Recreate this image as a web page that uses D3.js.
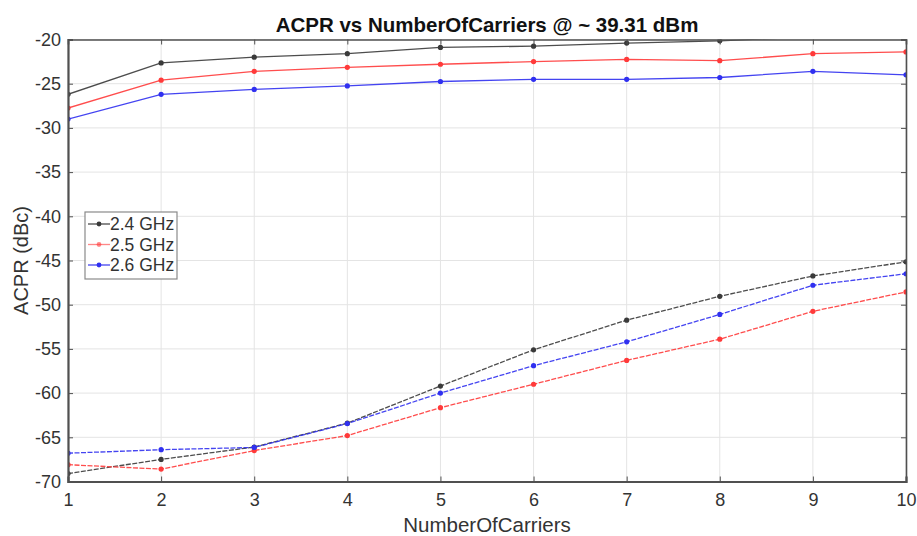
<!DOCTYPE html>
<html>
<head>
<meta charset="utf-8">
<script src="https://cdn.jsdelivr.net/npm/d3@7"></script>
<style>
  html, body { margin: 0; padding: 0; background: #fff; }
  svg { display: block; font-family: "Liberation Sans", Arial, sans-serif; }
</style>
</head>
<body>
<svg id="chart" width="917" height="536"></svg>
<script>
// ---- Data ----
const carriers = [1, 2, 3, 4, 5, 6, 7, 8, 9, 10];
const xTicks = [1, 2, 3, 4, 5, 6, 7, 8, 9, 10];
const yTicks = [-70, -65, -60, -55, -50, -45, -40, -35, -30, -25, -20];
const seriesNames = ["2.4 GHz", "2.5 GHz", "2.6 GHz"];
const seriesColors = ["#3a3a3a", "#ff3a3a", "#3030f0"];

// upper branch (one per frequency)
const upper24 = [-26.2, -22.65, -22.0, -21.6, -20.9, -20.75, -20.4, -20.15, -19.7, -19.3];
const upper25 = [-27.75, -24.6, -23.6, -23.15, -22.8, -22.5, -22.25, -22.4, -21.6, -21.4];
const upper26 = [-29.0, -26.2, -25.65, -25.25, -24.75, -24.5, -24.5, -24.3, -23.6, -24.0];
// lower branch (one per frequency)
const lower24 = [-69.1, -67.5, -66.1, -63.4, -59.2, -55.1, -51.75, -49.05, -46.75, -45.15];
const lower25 = [-68.1, -68.6, -66.5, -64.8, -61.65, -59.0, -56.3, -53.9, -50.75, -48.55];
const lower26 = [-66.8, -66.4, -66.15, -63.45, -60.0, -56.9, -54.2, -51.1, -47.8, -46.5];

const titleText = "ACPR vs NumberOfCarriers @ ~ 39.31 dBm";
const xLabel = "NumberOfCarriers";
const yLabel = "ACPR (dBc)";

// ---- Layout ----
const svg = d3.select("#chart");
const m = { left: 68, right: 11, top: 39.5, bottom: 54.5 };
const W = 917, H = 536;
const pw = W - m.left - m.right, ph = H - m.top - m.bottom;

const x = d3.scaleLinear().domain([1, 10]).range([0, pw]);
const y = d3.scaleLinear().domain([-70, -20]).range([ph, 0]);

const g = svg.append("g").attr("transform", `translate(${m.left},${m.top})`);

// grid
g.append("g").selectAll("line").data(xTicks).join("line")
  .attr("x1", d => x(d)).attr("x2", d => x(d)).attr("y1", 0).attr("y2", ph)
  .attr("stroke", "#e4e4e4").attr("stroke-width", 1);
g.append("g").selectAll("line").data(yTicks).join("line")
  .attr("y1", d => y(d)).attr("y2", d => y(d)).attr("x1", 0).attr("x2", pw)
  .attr("stroke", "#e4e4e4").attr("stroke-width", 1);

// clip
svg.append("defs").append("clipPath").attr("id", "clip")
  .append("rect").attr("x", 0).attr("y", 0).attr("width", pw).attr("height", ph);

const plot = g.append("g").attr("clip-path", "url(#clip)");
const line = d3.line().x((d, i) => x(carriers[i])).y(d => y(d));

const upperSets = [upper24, upper25, upper26];
const lowerSets = [lower24, lower25, lower26];

function drawSeries(vals, color, dash) {
  plot.append("path").datum(vals)
    .attr("d", line).attr("fill", "none")
    .attr("stroke", color).attr("stroke-width", 1.3)
    .attr("stroke-dasharray", dash).attr("opacity", 0.9);
  plot.append("g").selectAll("circle").data(vals).join("circle")
    .attr("cx", (d, i) => x(carriers[i])).attr("cy", d => y(d))
    .attr("r", 2.6).attr("fill", color);
}
upperSets.forEach((s, i) => drawSeries(s, seriesColors[i], null));
lowerSets.forEach((s, i) => drawSeries(s, seriesColors[i], "5,1.5"));

// axes (MATLAB-like: ticks inward, box)
const axisColor = "#505050";
const xAxis = d3.axisBottom(x).tickValues(xTicks).tickSize(-5).tickPadding(12).tickFormat(d3.format("d"));
const yAxis = d3.axisLeft(y).tickValues(yTicks).tickSize(-5).tickPadding(7).tickFormat(d => d3.format("d")(d).replace("\u2212", "-"));

const gx = g.append("g").attr("transform", `translate(0,${ph})`).call(xAxis);
const gy = g.append("g").call(yAxis);
const gxTop = g.append("g").call(d3.axisTop(x).tickValues(xTicks).tickSize(-5).tickFormat(""));
const gyRight = g.append("g").attr("transform", `translate(${pw},0)`).call(d3.axisRight(y).tickValues(yTicks).tickSize(-5).tickFormat(""));

[gx, gy, gxTop, gyRight].forEach(a => {
  a.selectAll("path").attr("stroke", axisColor).attr("stroke-width", 1.6);
  a.selectAll("line").attr("stroke", axisColor);
  a.selectAll("text").attr("fill", "#333").style("font-size", "18px")
    .style("font-family", "'Liberation Sans', Arial, sans-serif");
});
gx.select(".domain").attr("stroke-width", 2.2);
gy.select(".domain").attr("stroke-width", 2.2);

// title & labels
svg.append("text").attr("x", m.left + pw / 2).attr("y", 32)
  .attr("text-anchor", "middle").style("font-size", "20.5px").style("font-weight", "bold")
  .attr("fill", "#111").text(titleText);
svg.append("text").attr("x", m.left + pw / 2).attr("y", 532)
  .attr("text-anchor", "middle").style("font-size", "20.5px").attr("fill", "#333").text(xLabel);
svg.append("text").attr("transform", `translate(28,${m.top + ph / 2}) rotate(-90)`)
  .attr("text-anchor", "middle").style("font-size", "20px").attr("fill", "#333").text(yLabel);

// legend
const lg = svg.append("g").attr("transform", "translate(85,212)");
lg.append("rect").attr("width", 92).attr("height", 67)
  .attr("fill", "#fff").attr("stroke", "#8a8a8a").attr("stroke-width", 1.2);
seriesNames.forEach((name, i) => {
  const yy = 12 + i * 20.5;
  const row = lg.append("g").attr("transform", `translate(0,${yy})`);
  row.append("line").attr("x1", 3).attr("x2", 25).attr("y1", 0).attr("y2", 0)
    .attr("stroke", seriesColors[i]).attr("stroke-width", 1.3).attr("opacity", i === 1 ? 0.6 : 0.9);
  row.append("circle").attr("cx", 14).attr("cy", 0).attr("r", 2.4).attr("fill", seriesColors[i]).attr("opacity", i === 1 ? 0.6 : 1);
  row.append("text").attr("x", 25).attr("y", 6).style("font-size", "17.5px").attr("fill", "#333").text(name);
});
</script>
</body>
</html>
